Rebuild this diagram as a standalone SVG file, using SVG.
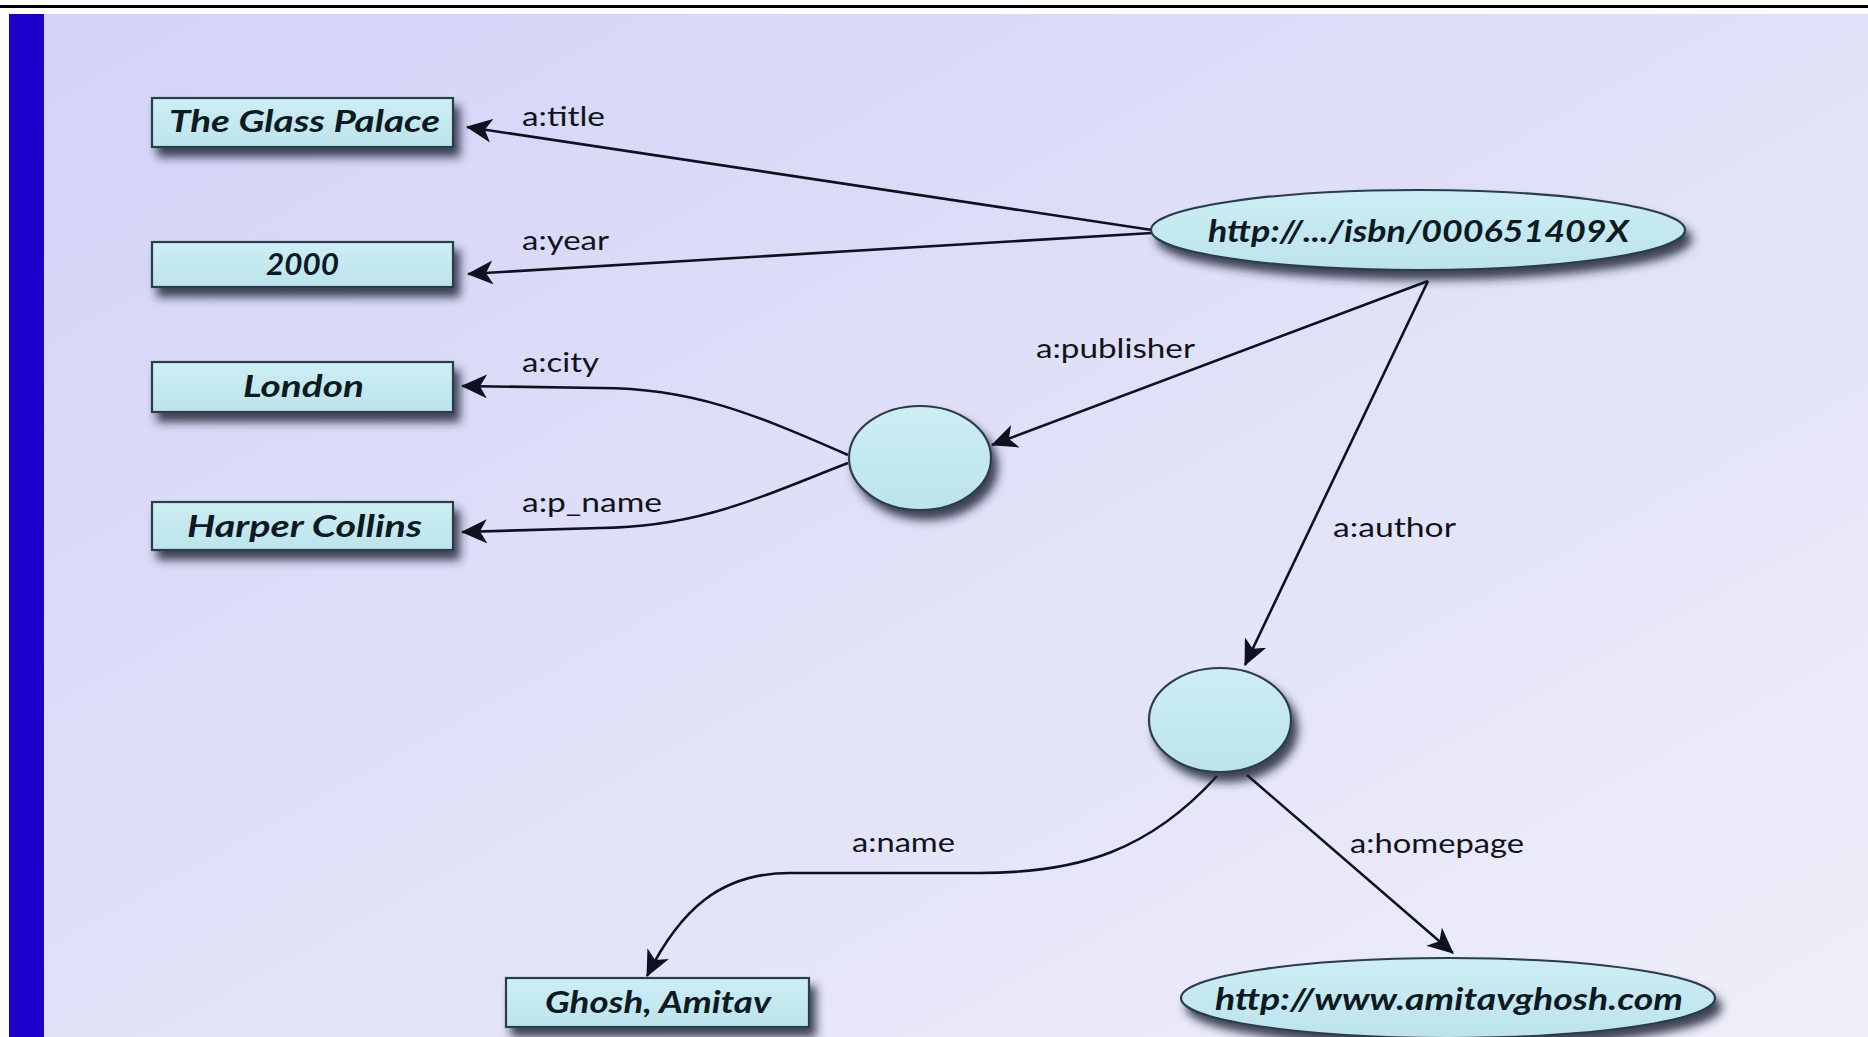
<svg xmlns="http://www.w3.org/2000/svg" width="1868" height="1037" viewBox="0 0 1868 1037">
<defs>
<linearGradient id="bg" x1="0" y1="0" x2="1" y2="1">
<stop offset="0" stop-color="#d3d3f8"/>
<stop offset="0.6" stop-color="#e3e3f8"/>
<stop offset="1" stop-color="#efeffa"/>
</linearGradient>
<linearGradient id="nodefill" x1="0" y1="0" x2="0" y2="1">
<stop offset="0" stop-color="#cdeef4"/>
<stop offset="1" stop-color="#bce3ec"/>
</linearGradient>
<filter id="shadow" x="-20%" y="-30%" width="140%" height="180%">
<feDropShadow dx="6" dy="9" stdDeviation="5" flood-color="#1c2838" flood-opacity="0.85"/>
</filter>
<marker id="arrow" viewBox="0 0 26 24" refX="25" refY="12" markerWidth="26" markerHeight="24" markerUnits="userSpaceOnUse" orient="auto">
<path d="M0,0 L26,12 L0,24 L7,12 z" fill="#0c1220"/>
</marker>
<style>
.node{fill:url(#nodefill);stroke:#2c3c4c;stroke-width:2.2;filter:url(#shadow)}
.ntext{font-family:"Lato","Liberation Sans",sans-serif;font-weight:700;font-style:italic;font-size:31px;fill:#0e1a22}
.edge{fill:none;stroke:#0c1220;stroke-width:2.6;marker-end:url(#arrow)}
.label{font-family:"Lato","Liberation Sans",sans-serif;font-size:27px;fill:#101418}
</style>
</defs>
<rect x="0" y="0" width="1868" height="1037" fill="#ffffff"/>
<rect x="0" y="5" width="1868" height="3" fill="#000000"/>
<rect x="9" y="14" width="1859" height="1023" fill="url(#bg)"/>
<rect x="9" y="14" width="35" height="1023" fill="#1c00cc"/>

<g id="connectors">
<path class="edge" d="M1152,230 L467,127"/>
<path class="edge" d="M1152,233 L468,274"/>
<path class="edge" d="M848,455 C750,412 690,388 600,388 L462,386"/>
<path class="edge" d="M848,463 C760,497 700,527 600,528 L462,532"/>
<path class="edge" d="M1428,281 L992,445"/>
<path class="edge" d="M1428,281 L1245,665"/>
<path class="edge" d="M1217,776 C1150,850 1080,873 980,873 L790,873 C720,873 680,910 647,976"/>
<path class="edge" d="M1247,775 L1453,953"/>
<text class="label" x="522" y="126" textLength="83" lengthAdjust="spacingAndGlyphs">a:title</text>
<text class="label" x="522" y="250" textLength="87" lengthAdjust="spacingAndGlyphs">a:year</text>
<text class="label" x="522" y="372" textLength="77" lengthAdjust="spacingAndGlyphs">a:city</text>
<text class="label" x="522" y="512" textLength="140" lengthAdjust="spacingAndGlyphs">a:p_name</text>
<text class="label" x="1036" y="358" textLength="159" lengthAdjust="spacingAndGlyphs">a:publisher</text>
<text class="label" x="1333" y="537" textLength="123" lengthAdjust="spacingAndGlyphs">a:author</text>
<text class="label" x="852" y="852" textLength="103" lengthAdjust="spacingAndGlyphs">a:name</text>
<text class="label" x="1350" y="853" textLength="174" lengthAdjust="spacingAndGlyphs">a:homepage</text>
</g>

<g id="node-title">
<rect class="node" x="152" y="98" width="301" height="49"/>
<text class="ntext" x="169" y="132" textLength="271" lengthAdjust="spacingAndGlyphs">The Glass Palace</text>
</g>
<g id="node-year">
<rect class="node" x="152" y="242" width="301" height="45"/>
<text class="ntext" x="266" y="275" textLength="73" lengthAdjust="spacingAndGlyphs">2000</text>
</g>
<g id="node-london">
<rect class="node" x="152" y="362" width="301" height="50"/>
<text class="ntext" x="243" y="397" textLength="121" lengthAdjust="spacingAndGlyphs">London</text>
</g>
<g id="node-harper">
<rect class="node" x="152" y="502" width="301" height="48"/>
<text class="ntext" x="187" y="537" textLength="235" lengthAdjust="spacingAndGlyphs">Harper Collins</text>
</g>
<g id="node-ghosh">
<rect class="node" x="506" y="978" width="303" height="49"/>
<text class="ntext" x="545" y="1013" textLength="226" lengthAdjust="spacingAndGlyphs">Ghosh, Amitav</text>
</g>
<g id="node-isbn">
<ellipse class="node" cx="1418" cy="230" rx="267" ry="40"/>
<text class="ntext" x="1208" y="242" textLength="421" lengthAdjust="spacingAndGlyphs">http://.../isbn/000651409X</text>
</g>
<g id="node-publisher">
<ellipse class="node" cx="920" cy="458" rx="71" ry="52"/>
</g>
<g id="node-author">
<ellipse class="node" cx="1220" cy="720" rx="71" ry="52"/>
</g>
<g id="node-homepage">
<ellipse class="node" cx="1448" cy="998" rx="267" ry="40"/>
<text class="ntext" x="1215" y="1010" textLength="468" lengthAdjust="spacingAndGlyphs">http://www.amitavghosh.com</text>
</g>
</svg>
